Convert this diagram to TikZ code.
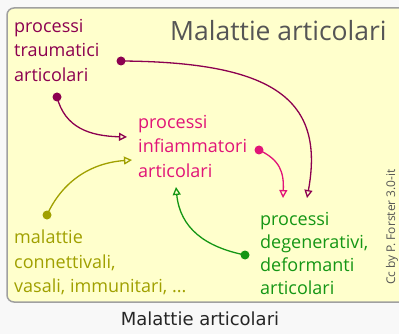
\documentclass[tikz,border=0pt]{standalone}
\usepackage{fontspec}
\setmainfont{Open Sans}
\newfontfamily\capfont{DejaVu Sans}
\usepackage{xcolor}
\usetikzlibrary{arrows.meta}
\definecolor{pagebg}{RGB}{248,248,248}
\definecolor{panelbg}{RGB}{255,255,204}
\definecolor{panelline}{RGB}{160,160,160}
\definecolor{titlecol}{RGB}{85,85,85}
\definecolor{traumcol}{RGB}{140,0,80}
\definecolor{inflcol}{RGB}{225,20,120}
\definecolor{conncol}{RGB}{160,160,0}
\definecolor{degencol}{RGB}{20,150,20}
\tikzset{
    panel/.style={draw=panelline, line width=1.5pt, fill=panelbg, rounded corners=7pt},
    label/.style={anchor=north west, inner sep=0pt, align=left, font=\fontsize{18}{24.5}\selectfont},
    dot/.style={circle, fill=#1, inner sep=0pt, minimum size=9pt},
    link/.style={draw=#1, line width=1.3pt, -{Triangle[open, length=8pt, width=8pt]}},
    credit/.style={inner sep=0pt, rotate=90, text=titlecol, font=\fontsize{12}{14}\selectfont}
}

\begin{document}
\begin{tikzpicture}[x=1pt, y=-1pt]
    \useasboundingbox[fill=pagebg] (0,0) rectangle (399,334);

    % panel
    \draw[panel] (7,8) rectangle (420,302);
    \node[anchor=base west, inner sep=0pt, text=titlecol, font=\fontsize{26.5}{30}\selectfont] (title) at (170,41) {Malattie articolari};

    % the four groups
    \node[label, text=traumcol] (traum) at (14,19) {processi\\traumatici\\articolari};
    \node[label, text=inflcol] (infl) at (138,115) {processi\\infiammatori\\articolari};
    \node[label, text=conncol] (conn) at (14,230) {malattie\\connettivali,\\vasali, immunitari, ...};
    \node[label, text=degencol, font=\fontsize{18}{23}\selectfont] (degen) at (260,212) {processi\\degenerativi,\\deformanti\\articolari};
    \node[credit] (cc) at (392,227) {Cc by P. Forster 3.0-it};

    % dots and arrow ends
    \node[dot=traumcol] (t1) at (121,61) {};
    \node[dot=traumcol] (t2) at (57,97) {};
    \node[dot=conncol] (c1) at (47,215) {};
    \node[dot=inflcol] (i1) at (259,150) {};
    \node[dot=degencol] (d1) at (245,255) {};
    \coordinate (inflW1) at (127,137);
    \coordinate (inflW2) at (132,160);
    \coordinate (inflS) at (176,187);
    \coordinate (degenN1) at (283,198);
    \coordinate (degenN2) at (307,198);

    % arrows
    \draw[link=traumcol] (t1.center) .. controls (275,62) and (325,100) .. (degenN2);
    \draw[link=traumcol] (t2.center) .. controls (65,128) and (90,136) .. (inflW1);
    \draw[link=conncol] (c1.center) .. controls (62,182) and (90,163) .. (inflW2);
    \draw[link=inflcol] (i1.center) .. controls (280,160) and (284,172) .. (degenN1);
    \draw[link=degencol] (d1.center) .. controls (205,247) and (180,228) .. (inflS);

    % caption
    \node[inner sep=0pt, text=black!85, font=\capfont\fontsize{18}{20}\selectfont] (caption) at (200,319) {Malattie articolari};
\end{tikzpicture}
\end{document}
